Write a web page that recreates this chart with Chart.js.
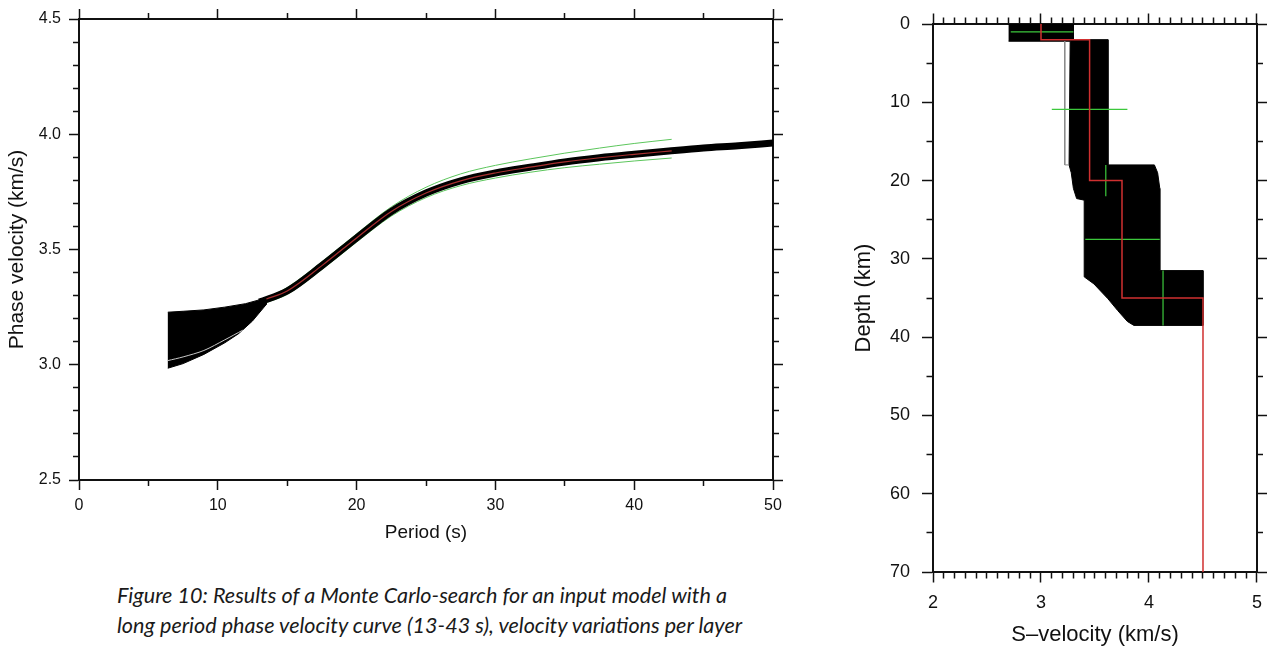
<!DOCTYPE html>
<html>
<head>
<meta charset="utf-8">
<title>Monte Carlo search results</title>
<script src="https://cdn.jsdelivr.net/npm/chart.js@4"></script>
<style>
    body {
        margin: 0;
        width: 1272px;
        height: 650px;
        overflow: hidden;
        position: relative;
        background: #ffffff;
    }
    #phaseBox { position: absolute; left: 0; top: 0; width: 800px; height: 560px; }
    #depthBox { position: absolute; left: 800px; top: 0; width: 472px; height: 650px; }
    .caption {
        position: absolute;
        left: 117px;
        top: 580px;
        font-family: Lato, "Open Sans", sans-serif;
        font-style: italic;
        font-size: 19px;
        line-height: 30px;
        color: #1a1a1a;
        white-space: nowrap;
    }
</style>
</head>
<body>
<div id="phaseBox"><canvas id="phaseChart" width="800" height="560"></canvas></div>
<div id="depthBox"><canvas id="depthChart" width="472" height="650"></canvas></div>
<div class="caption" id="caption">
    <div><span id="capLine1">Figure 10: Results of a Monte Carlo-search for an input model with a</span></div>
    <div><span>long period phase velocity curve (13-43 s), velocity variations per layer</span></div>
</div>
<script>
// ---- left panel: phase velocity curves ----
// outline of the fan of short-period curves (upper edge, then lower edge back)
const fanPeriod   = [6.4, 7.5, 9, 10.5, 12, 13.5, 13.5, 12.5, 11.5, 10.5, 9, 7.5, 6.4];
const fanVelocity = [3.228, 3.232, 3.238, 3.25, 3.265, 3.29, 3.262, 3.19, 3.135, 3.095, 3.045, 3.005, 2.985];
// light gap line inside the fan
const gapPeriod   = [6.4, 7.5, 9, 10.5, 11.8];
const gapVelocity = [3.018, 3.034, 3.062, 3.108, 3.15];
// the tight bundle of accepted curves
const bandPeriod   = [13, 15, 17.5, 20, 22.5, 25, 27.5, 30, 32.5, 35, 37.5, 40, 42.5, 45, 47.5, 50];
const bandVelocity = [3.272, 3.32, 3.43, 3.55, 3.665, 3.745, 3.798, 3.832, 3.857, 3.88, 3.898, 3.913, 3.927, 3.94, 3.95, 3.962];
// input curve (red) and its bounds (green)
const obsPeriod   = [13.5, 15, 17.5, 20, 22.5, 25, 27.5, 30, 32.5, 35, 37.5, 40, 42.7];
const obsVelocity = [3.285, 3.32, 3.43, 3.55, 3.665, 3.745, 3.798, 3.832, 3.857, 3.88, 3.898, 3.913, 3.928];
const obsUpper    = [3.29, 3.335, 3.447, 3.568, 3.685, 3.77, 3.828, 3.865, 3.893, 3.918, 3.94, 3.96, 3.978];
const obsLower    = [3.27, 3.305, 3.413, 3.532, 3.645, 3.725, 3.777, 3.81, 3.835, 3.855, 3.87, 3.884, 3.897];

// ---- right panel: S-velocity profiles ----
// outline of the cloud of accepted models (velocity, depth)
const cloudVelocity = [2.70, 3.30, 3.30, 3.62, 3.62, 4.05, 4.08, 4.10, 4.10, 4.50, 4.50, 3.86, 3.80, 3.71, 3.62, 3.49, 3.40, 3.40, 3.33, 3.30, 3.28, 3.26, 3.27, 2.70];
const cloudDepth    = [0, 0, 2.0, 2.0, 18.0, 18.0, 19.0, 21.0, 31.5, 31.5, 38.5, 38.5, 38.0, 36.6, 35.1, 33.2, 32.3, 22.5, 22.3, 21.0, 19.0, 18.0, 2.2, 2.2];
const strayVelocity = [3.22, 3.22, 3.26];
const strayDepth    = [2.2, 18.0, 18.0];
// input model
const modelVelocity = [3.0, 3.0, 3.45, 3.45, 3.75, 3.75, 4.5, 4.5];
const modelDepth    = [0, 2, 2, 20, 20, 35, 35, 70];
// search ranges (green crosses)
const rangeDepth = [1.0, 10.9, 27.5];
const rangeVmin  = [2.72, 3.10, 3.41];
const rangeVmax  = [3.30, 3.80, 4.10];
const barVelocity = [3.60, 4.13];
const barDmin     = [18.0, 31.5];
const barDmax     = [22.0, 38.5];

const FONT = '"Liberation Sans", Arial, Helvetica, sans-serif';
const INK = '#111';

function pairs(xs, ys) {
    return xs.map((x, i) => ({ x: x, y: ys[i] }));
}

// no minor ticks in Chart.js: all ticks get the major length and a dash cuts the minor ones short
function tickMarks(side, isMajor, majorLen, minorLen) {
    const len = majorLen - 1;
    return {
        drawOnChartArea: false,
        tickLength: majorLen,
        tickWidth: 1.5,
        tickColor: INK,
        tickBorderDash: ctx => {
            if (!ctx.tick || isMajor(ctx.tick.value)) return [];
            return (side === 'left' || side === 'top') ? [0, len - minorLen, minorLen, 100] : [minorLen, 100];
        }
    };
}

function near(v, step) {
    return Math.abs(v / step - Math.round(v / step)) < 1e-6;
}

const line = (data, color, width, order, extra) => Object.assign({
    data: data, borderColor: color, borderWidth: width, pointRadius: 0, fill: false, order: order
}, extra || {});

// ---------- phase velocity chart ----------
const periodMajor = v => near(v, 10);
const velMajor = v => near(v, 0.5);
const leftTicks = { family: FONT, size: 16 };

new Chart(document.getElementById('phaseChart'), {
    type: 'line',
    data: {
        datasets: [
            line(pairs(obsPeriod, obsVelocity), '#a83030', 1.2, 0, { cubicInterpolationMode: 'monotone' }),
            line(pairs(bandPeriod, bandVelocity), '#000', 7, 1, { cubicInterpolationMode: 'monotone', clip: 0 }),
            line(pairs(obsPeriod, obsUpper), '#5cc65c', 1, 2, { cubicInterpolationMode: 'monotone' }),
            line(pairs(obsPeriod, obsLower), '#5cc65c', 1, 2, { cubicInterpolationMode: 'monotone' }),
            line(pairs(gapPeriod, gapVelocity), '#c8c8c8', 1, 3, { tension: 0.3 }),
            line(pairs(fanPeriod, fanVelocity), '#000', 1, 4, { fill: 'shape', backgroundColor: '#000' })
        ]
    },
    options: {
        responsive: false,
        animation: false,
        layout: { padding: 0 },
        plugins: { legend: { display: false }, tooltip: { enabled: false } },
        scales: {
            x: {
                type: 'linear', position: 'bottom', min: 0, max: 50,
                ticks: { stepSize: 5, autoSkip: false, maxRotation: 0, padding: 6, color: INK, font: leftTicks,
                         callback: v => periodMajor(v) ? String(Math.round(v)) : '' },
                grid: tickMarks('bottom', periodMajor, 10, 5),
                border: { width: 2, color: INK },
                title: { display: true, text: 'Period (s)', color: INK,
                         font: { family: FONT, size: 19, lineHeight: 1 }, padding: { top: 0, bottom: 17.5 } },
                afterFit: s => { s.height = 80; }
            },
            xTop: {
                type: 'linear', axis: 'x', position: 'top', min: 0, max: 50,
                ticks: { stepSize: 5, autoSkip: false, display: false },
                grid: tickMarks('top', periodMajor, 10, 5),
                border: { width: 2, color: INK },
                afterFit: s => { s.height = 19; }
            },
            y: {
                type: 'linear', position: 'left', min: 2.5, max: 4.5,
                ticks: { stepSize: 0.1, autoSkip: false, padding: 8, color: INK, font: leftTicks,
                         callback: v => velMajor(v) ? v.toFixed(1) : '' },
                grid: tickMarks('left', velMajor, 10, 5),
                border: { width: 2, color: INK },
                title: { display: true, text: 'Phase velocity (km/s)', color: INK,
                         font: { family: FONT, size: 21, lineHeight: 1 }, padding: { top: 6.5, bottom: 0 } },
                afterFit: s => { s.width = 79; }
            },
            yRight: {
                type: 'linear', axis: 'y', position: 'right', min: 2.5, max: 4.5,
                ticks: { stepSize: 0.1, autoSkip: false, display: false },
                grid: tickMarks('right', velMajor, 10, 5),
                border: { width: 2, color: INK },
                afterFit: s => { s.width = 27; }
            }
        }
    }
});

// ---------- S-velocity profile chart ----------
const vsMajor = v => near(v, 1);
const depthMajor = v => near(v, 10);
const rightTicks = { family: FONT, size: 18 };

const crossSets = [];
rangeDepth.forEach((d, i) => {
    crossSets.push(line([{ x: rangeVmin[i], y: d }, { x: rangeVmax[i], y: d }], '#3cc83c', 1.2, 1));
});
barVelocity.forEach((v, i) => {
    crossSets.push(line([{ x: v, y: barDmin[i] }, { x: v, y: barDmax[i] }], '#3cc83c', 1.2, 1));
});

new Chart(document.getElementById('depthChart'), {
    type: 'line',
    data: {
        datasets: [
            line(pairs(modelVelocity, modelDepth), '#d03030', 1.5, 0),
            ...crossSets,
            line(pairs(strayVelocity, strayDepth), '#8a8a8a', 1, 2),
            line(pairs(cloudVelocity, cloudDepth), '#000', 1, 3, { fill: 'shape', backgroundColor: '#000' })
        ]
    },
    options: {
        responsive: false,
        animation: false,
        layout: { padding: 0 },
        plugins: { legend: { display: false }, tooltip: { enabled: false } },
        scales: {
            x: {
                type: 'linear', position: 'bottom', min: 2, max: 5,
                ticks: { stepSize: 0.1, autoSkip: false, maxRotation: 0, padding: 10, color: INK, font: rightTicks,
                         callback: v => vsMajor(v) ? String(Math.round(v)) : '' },
                grid: tickMarks('bottom', vsMajor, 10.5, 5.5),
                border: { width: 2, color: INK },
                title: { display: true, text: 'S\u2013velocity (km/s)', color: INK,
                         font: { family: FONT, size: 22, lineHeight: 1 }, padding: { top: 0, bottom: 4 } },
                afterFit: s => { s.height = 78; }
            },
            xTop: {
                type: 'linear', axis: 'x', position: 'top', min: 2, max: 5,
                ticks: { stepSize: 0.1, autoSkip: false, display: false },
                grid: tickMarks('top', vsMajor, 10.5, 5.5),
                border: { width: 2, color: INK },
                afterFit: s => { s.height = 24; }
            },
            y: {
                type: 'linear', position: 'left', min: 0, max: 70, reverse: true,
                ticks: { stepSize: 5, autoSkip: false, padding: 12, color: INK, font: rightTicks,
                         callback: v => depthMajor(v) ? String(Math.round(v)) : '' },
                grid: tickMarks('left', depthMajor, 11, 5.5),
                border: { width: 2, color: INK },
                title: { display: true, text: 'Depth (km)', color: INK,
                         font: { family: FONT, size: 22, lineHeight: 1 }, padding: { top: 53, bottom: 0 } },
                afterFit: s => { s.width = 133; }
            },
            yRight: {
                type: 'linear', axis: 'y', position: 'right', min: 0, max: 70, reverse: true,
                ticks: { stepSize: 5, autoSkip: false, display: false },
                grid: tickMarks('right', depthMajor, 10, 5),
                border: { width: 2, color: INK },
                afterFit: s => { s.width = 10; }
            }
        }
    }
});

// caption: size the italic text so the first line spans about as far as in the figure
const cap = document.getElementById('caption');
const w = document.getElementById('capLine1').getBoundingClientRect().width;
if (w > 0) cap.style.fontSize = (19 * 610 / w).toFixed(2) + 'px';
</script>
</body>
</html>
